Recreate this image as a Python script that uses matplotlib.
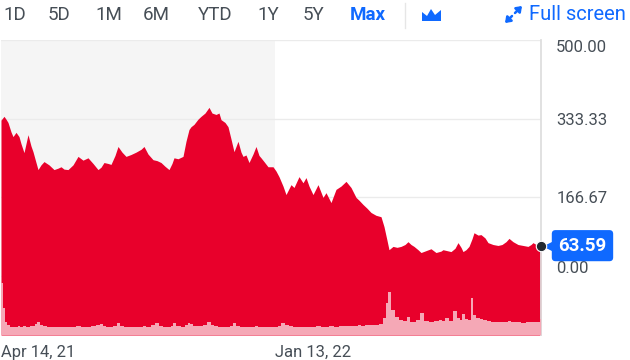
import numpy as np
import pandas as pd
import matplotlib
matplotlib.use("Agg")
import matplotlib.pyplot as plt
from matplotlib.patches import Polygon, FancyArrowPatch
from matplotlib.transforms import offset_copy

plt.rcParams['font.family'] = ['Roboto', 'DejaVu Sans']

# days since listing (Apr 14, 2021)
days = [0, 3, 5, 7, 10, 12, 15, 18, 20, 23,
        27, 30, 32, 35, 37, 40, 43, 48, 53, 57,
        60, 63, 67, 72, 77, 82, 87, 92, 97, 100,
        103, 107, 110, 114, 117, 121, 125, 130, 135, 140,
        143, 147, 152, 156, 160, 164, 168, 171, 173, 177,
        182, 185, 188, 190, 193, 197, 200, 204, 208, 211,
        215, 218, 220, 224, 227, 230, 233, 237, 240, 242,
        245, 248, 252, 255, 258, 260, 263, 267, 272, 275,
        278, 282, 285, 290, 293, 298, 302, 305, 308, 312,
        317, 322, 325, 330, 335, 340, 345, 350, 355, 358,
        362, 366, 370, 375, 380, 383, 386, 388, 392, 396,
        400, 404, 407, 410, 413, 417, 420, 425, 430, 435,
        440, 442, 446, 450, 454, 457, 460, 462, 465, 468,
        471, 473, 477, 480, 484, 487, 492, 497, 501, 505,
        508, 512, 517, 522, 527, 530, 532, 535, 537, 540]

price = [330, 338, 332, 325, 305, 295, 304, 295, 280, 261,
         299, 275, 263, 240, 225, 235, 242, 235, 225, 228,
         231, 226, 225, 235, 253, 245, 250, 238, 225, 230,
         240, 238, 236, 255, 274, 262, 253, 257, 262, 268,
         274, 258, 246, 244, 240, 232, 225, 238, 250, 248,
         253, 285, 310, 316, 321, 332, 338, 345, 357, 345,
         342, 345, 331, 325, 316, 290, 263, 285, 262, 253,
         256, 240, 258, 274, 255, 250, 242, 231, 231, 222,
         210, 190, 172, 193, 187, 210, 197, 208, 190, 172,
         193, 166, 176, 155, 183, 190, 200, 187, 166, 160,
         151, 143, 134, 128, 125, 104, 75, 55, 62, 60,
         62, 66, 72, 66, 62, 55, 49, 53, 57, 49,
         52, 55, 53, 51, 58, 70, 60, 51, 55, 62,
         78, 91, 86, 87, 80, 70, 66, 64, 66, 72,
         79, 72, 66, 64, 62, 66, 70, 66, 67, 63.59]

# volume, millions of shares
volume = [10.6, 5.5, 2.6, 2.0, 1.7, 1.6, 1.7, 1.8, 1.6, 1.9,
          1.7, 1.8, 1.9, 2.2, 2.6, 2.0, 1.8, 1.7, 1.6, 1.7,
          1.6, 1.7, 1.6, 1.7, 1.8, 1.7, 1.6, 1.8, 2.0, 2.3,
          1.8, 1.7, 1.6, 1.9, 2.4, 1.9, 1.7, 1.6, 1.6, 1.7,
          1.8, 1.7, 2.0, 2.4, 1.8, 1.7, 1.6, 1.8, 2.4, 1.8,
          1.7, 2.0, 2.4, 2.2, 1.9, 1.8, 1.9, 2.0, 2.6, 2.0,
          1.8, 1.7, 1.7, 1.6, 1.7, 1.9, 2.4, 1.9, 1.7, 1.6,
          1.6, 1.7, 1.6, 1.8, 1.7, 1.6, 1.6, 1.7, 1.6, 1.7,
          1.9, 2.4, 2.0, 1.8, 1.7, 1.6, 1.6, 1.7, 1.6, 1.7,
          1.8, 1.7, 1.7, 1.8, 1.7, 1.8, 1.9, 1.8, 1.9, 2.0,
          1.9, 2.0, 2.1, 2.0, 2.2, 3.5, 6.5, 8.8, 5.0, 3.6,
          3.0, 2.8, 3.6, 2.7, 2.6, 3.0, 4.4, 2.8, 2.7, 2.8,
          3.0, 2.8, 3.4, 2.9, 4.8, 3.5, 3.0, 4.2, 3.2, 3.0,
          7.6, 4.0, 3.5, 3.2, 3.0, 2.8, 2.7, 2.6, 2.6, 2.7,
          2.8, 2.6, 2.6, 2.5, 2.6, 2.6, 2.7, 2.6, 2.7, 3.2]

start = pd.Timestamp("2021-04-14")
dates = start + pd.to_timedelta(days, unit="D")

yticks = [0, 166.67, 333.33, 500]
ytick_labels = ["0.00", "166.67", "333.33", "500.00"]
xtick_dates = [pd.Timestamp("2021-04-14"), pd.Timestamp("2022-01-13")]
xtick_labels = ["Apr 14, 21", "Jan 13, 22"]
ranges = ["1D", "5D", "1M", "6M", "YTD", "1Y", "5Y", "Max"]

ymin = -126
red = "#e8002b"
pink = "#f5a8b6"
blue = "#0f69ff"
grey_txt = "#464e56"

fig = plt.figure(figsize=(6.3, 3.6), dpi=100)
ax = fig.add_axes([1 / 630, 25 / 360, 540 / 630, 295 / 360])

ax.axvspan(dates[0], xtick_dates[1], color="#f5f5f5", zorder=0.2, lw=0)
ax.fill_between(dates, price, ymin, color=red, lw=0, zorder=1)
ax.set_xlim(dates[0], dates[-1])
ax.set_ylim(ymin, 500)
ax.set_axisbelow(True)
ax.grid(axis="y", color="#ebebeb", lw=1)
ax.grid(axis="x", visible=False)

# volume on a twin axis, drawn over the price area
ax2 = ax.twinx()
ax2.fill_between(dates, volume, 0, step="mid", color=pink, lw=0)
ax2.set_ylim(0, 60)
ax2.set_yticks([])
for s in ax2.spines.values():
    s.set_visible(False)

ax.set_yticks(yticks)
ax.set_yticklabels(ytick_labels)
ax.yaxis.tick_right()
ax.tick_params(axis="y", length=0, pad=11, labelsize=12, labelcolor=grey_txt)
for lab in ax.get_yticklabels():
    t = lab.get_text()
    if t == "500.00":
        lab.set_va("top")
    elif t == "0.00":
        lab.set_va("bottom")

ax.set_xticks(xtick_dates)
ax.set_xticklabels(xtick_labels, ha="left")
ax.tick_params(axis="x", length=0, pad=7, labelsize=12, labelcolor=grey_txt)

for s in ["top", "left", "bottom"]:
    ax.spines[s].set_visible(False)
ax.spines["right"].set_color("#dedede")
ax.spines["right"].set_linewidth(1.3)

# last price marker + tag
tri = offset_copy(ax.transData, fig=fig, x=10, y=0, units="dots")
ax.plot([dates[-1]], [price[-1]], marker="<", color=blue, ms=10, zorder=5,
        transform=tri, clip_on=False)
ax.annotate(f"{price[-1]:.2f}", xy=(dates[-1], price[-1]), xytext=(12.5, 0),
            textcoords="offset points", ha="left", va="center", color="white",
            fontsize=13.5, fontweight="bold", zorder=5, annotation_clip=False,
            bbox=dict(boxstyle="round,pad=0.35,rounding_size=0.2", fc=blue,
                      ec="none"))
ax.plot([dates[-1]], [price[-1]], "o", color="#232a31", ms=7.5, mec="white",
        mew=0.8, zorder=6, clip_on=False)

# header
xs = [3, 48, 95, 143, 198, 257, 303, 350]
for lbl, x in zip(ranges, xs):
    fig.text(x / 630, 1 - 15 / 360, lbl, ha="left", va="center", fontsize=13.5,
             color=blue if lbl == "Max" else grey_txt,
             fontweight="bold" if lbl == "Max" else "normal")
fig.add_artist(plt.Line2D([405 / 630, 405 / 630], [1 - 3 / 360, 1 - 28 / 360],
                          color="#e6e6e6", lw=1))
icon = [(422, 21), (422, 12), (427, 16), (431, 9), (435, 15), (441, 10), (441, 21)]
fig.add_artist(Polygon([(x / 630, 1 - y / 360) for x, y in icon], closed=True,
                       fc=blue, ec="none", transform=fig.transFigure))
# full-screen icon: two diagonal arrows
for (x0, y0), (x1, y1) in [((512, 16), (505, 23)), ((515, 13), (522, 6))]:
    fig.add_artist(FancyArrowPatch((x0 / 630, 1 - y0 / 360), (x1 / 630, 1 - y1 / 360),
                                   transform=fig.transFigure, arrowstyle="-|>,head_length=3,head_width=2.2",
                                   color=blue, lw=1.8, mutation_scale=1,
                                   shrinkA=0, shrinkB=0))
fig.text(529 / 630, 1 - 15 / 360, "Full screen", ha="left", va="center",
         fontsize=14.5, color=blue)

fig.savefig("out.png", dpi=100)
